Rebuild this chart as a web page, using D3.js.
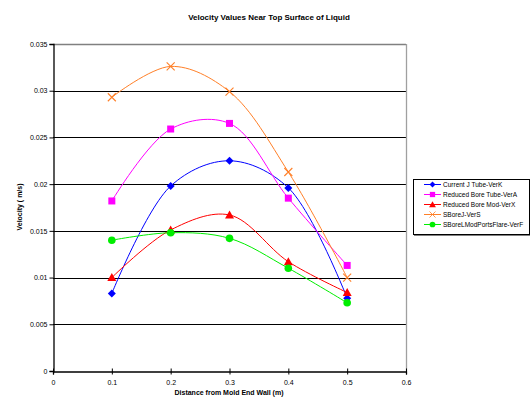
<!DOCTYPE html>
<html><head><meta charset="utf-8">
<script src="https://cdn.jsdelivr.net/npm/d3@7"></script>
<style>body{margin:0;background:#fff;font-family:Arial,"Liberation Sans",sans-serif;}</style>
</head><body><svg id="c" width="531" height="401"></svg>
<script>
const xValues = [0.1, 0.2, 0.3, 0.4, 0.5];
const seriesNames = ["Current J Tube-VerK","Reduced Bore Tube-VerA","Reduced Bore Mod-VerX","SBoreJ-VerS","SBoreLModPortsFlare-VerF"];
const currentJ = [0.0083, 0.0198, 0.0225, 0.0196, 0.0078];
const reducedTube = [0.0182, 0.0259, 0.0265, 0.0185, 0.0113];
const reducedMod = [0.0100, 0.0151, 0.0167, 0.0117, 0.0084];
const sboreJ = [0.0293, 0.0326, 0.0299, 0.0213, 0.0100];
const sboreL = [0.0140, 0.0148, 0.0142, 0.0110, 0.0073];
const xTicks = [0, 0.1, 0.2, 0.3, 0.4, 0.5, 0.6];
const yTicks = [0, 0.005, 0.01, 0.015, 0.02, 0.025, 0.03, 0.035];
const colors = ["#0000ff","#ff00ff","#ff0000","#ff7f27","#00ee00"];
const markers = ["diamond","square","triangle","x","circle"];
const allSeries = [currentJ, reducedTube, reducedMod, sboreJ, sboreL];

const svg = d3.select("#c");
const L=53, R=406, T=44, B=371;
const x = d3.scaleLinear().domain([0,0.6]).range([L,R]);
const y = d3.scaleLinear().domain([0,0.035]).range([B,T]);

svg.append("text").attr("x",269).attr("y",20).attr("text-anchor","middle")
  .attr("font-size","8px").attr("font-weight","bold").text("Velocity Values Near Top Surface of Liquid");

// gridlines
svg.append("g").selectAll("line").data(yTicks.filter(d=>d>0 && d<0.035)).join("line")
  .attr("x1",L).attr("x2",R).attr("y1",d=>Math.round(y(d))+0.5).attr("y2",d=>Math.round(y(d))+0.5)
  .attr("stroke","#000").attr("stroke-width",1);
// plot frame (top, right)
svg.append("line").attr("x1",L).attr("x2",R).attr("y1",T+0.5).attr("y2",T+0.5).attr("stroke","#808080").attr("stroke-width",1.3);
svg.append("line").attr("x1",R+0.5).attr("x2",R+0.5).attr("y1",T).attr("y2",B).attr("stroke","#a0a0a0").attr("stroke-width",1.3);

const fmt = d => d===0 ? "0" : String(+d.toFixed(3));
const yAxis = d3.axisLeft(y).tickValues(yTicks).tickFormat(fmt).tickSize(4).tickPadding(2);
const gy = svg.append("g").attr("transform",`translate(${L+0.5},0)`).call(yAxis);
const xAxis = d3.axisBottom(x).tickValues(xTicks).tickFormat(fmt).tickSize(3).tickPadding(6);
const gx = svg.append("g").attr("transform",`translate(0,${B+0.5})`).call(xAxis);
[gx,gy].forEach(g=>{
  g.selectAll("text").attr("font-size","7px").attr("font-family","Arial,'Liberation Sans',sans-serif").attr("fill","#000");
  g.selectAll("line,path").attr("stroke","#000");
  g.select(".domain").attr("stroke-width",1.3);
});
gx.selectAll(".tick line").attr("y1",-3).attr("y2",3);

svg.append("text").attr("x",229).attr("y",395).attr("text-anchor","middle")
  .attr("font-size","7px").attr("font-weight","bold").text("Distance from Mold End Wall (m)");
svg.append("text").attr("transform","translate(22,207) rotate(-90)").attr("text-anchor","middle")
  .attr("font-size","7px").attr("font-weight","bold").text("Velocity ( m/s)");

const line = d3.line().x((d,i)=>x(xValues[i])).y(d=>y(d)).curve(d3.curveCatmullRom.alpha(0.5));

function drawMarker(g, type, cx, cy, color){
  if(type==="diamond") g.append("path").attr("d",`M${cx},${cy-4}L${cx+4},${cy}L${cx},${cy+4}L${cx-4},${cy}Z`).attr("fill",color);
  else if(type==="square") g.append("rect").attr("x",cx-3.5).attr("y",cy-3.5).attr("width",7).attr("height",7).attr("fill",color);
  else if(type==="triangle") g.append("path").attr("d",`M${cx},${cy-4.5}L${cx+4.5},${cy+3.5}L${cx-4.5},${cy+3.5}Z`).attr("fill",color);
  else if(type==="x") g.append("path").attr("d",`M${cx-4},${cy-4}L${cx+4},${cy+4}M${cx-4},${cy+4}L${cx+4},${cy-4}`).attr("stroke",color).attr("stroke-width",1.1).attr("fill","none");
  else if(type==="circle") g.append("circle").attr("cx",cx).attr("cy",cy).attr("r",3.8).attr("fill",color);
}

allSeries.forEach((s,k)=>{
  const g = svg.append("g");
  g.append("path").attr("d",line(s)).attr("fill","none").attr("stroke",colors[k]).attr("stroke-width",1);
  s.forEach((v,i)=>drawMarker(g, markers[k], x(xValues[i]), y(v), colors[k]));
});

// legend
const lg = svg.append("g");
lg.append("rect").attr("x",413.5).attr("y",179.5).attr("width",116).attr("height",55).attr("fill","#fff").attr("stroke","#000").attr("stroke-width",1);
lg.append("line").attr("x1",414).attr("x2",530).attr("y1",235).attr("y2",235).attr("stroke","#000").attr("stroke-width",1.2);
seriesNames.forEach((n,k)=>{
  const yy = 184.5 + k*10;
  lg.append("line").attr("x1",424).attr("x2",441).attr("y1",yy).attr("y2",yy).attr("stroke",colors[k]).attr("stroke-width",1);
  const gm = lg.append("g").attr("transform",`translate(${432.5},${yy}) scale(0.75) translate(${-432.5},${-yy})`);
  drawMarker(gm, markers[k], 432.5, yy, colors[k]);
  lg.append("text").attr("x",443).attr("y",yy+2.5).attr("font-size","6.5px").text(n);
});
</script></body></html>
